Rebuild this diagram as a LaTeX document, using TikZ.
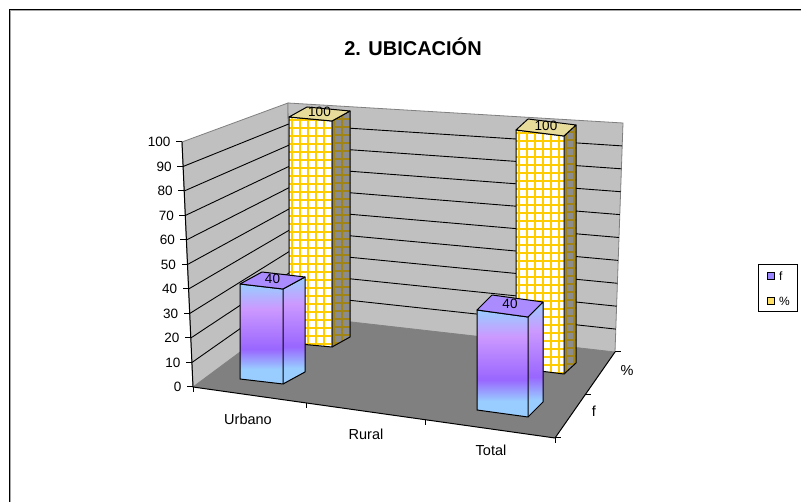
\documentclass[tikz,border=0pt]{standalone}
\usepackage{fontspec}
\setmainfont{Liberation Sans}
\usetikzlibrary{calc}

\definecolor{wallgray}{HTML}{C0C0C0}
\definecolor{floorgray}{HTML}{808080}
\definecolor{edgegray}{HTML}{808080}
\definecolor{fblue}{HTML}{99CCFF}
\definecolor{flav}{HTML}{CC99FF}
\definecolor{fviolet}{HTML}{9966FF}
\definecolor{ftop}{HTML}{AA8CFF}
\definecolor{pyellow}{HTML}{FFCC00}
\definecolor{pdark}{HTML}{A08418}
\definecolor{pside}{HTML}{8C8C8C}
\definecolor{ptop}{HTML}{E8DC9A}

\pgfdeclareverticalshading{fshade}{100bp}{color(0bp)=(fblue); color(25bp)=(fblue);
  color(32.5bp)=(fblue); color(42.5bp)=(fviolet); color(62.5bp)=(flav);
  color(75bp)=(fblue); color(100bp)=(fblue)}

\begin{document}
\begin{tikzpicture}[
      x=1pt, y=-1pt,
      wall/.style={fill=wallgray, draw=edgegray, line width=0.8pt},
      gridline/.style={black, line width=0.9pt},
      axisline/.style={black, line width=1pt},
      barline/.style={draw=black, line width=1pt, line join=round},
      yelgrid/.style={pyellow, line width=2.4pt},
      sidegrid/.style={pdark, line width=2.2pt},
      ticklabel/.style={font=\fontsize{13.5}{16}\selectfont, inner sep=0pt},
      catlabel/.style={font=\fontsize{14.5}{17}\selectfont, inner sep=0pt},
      vallabel/.style={font=\fontsize{13.5}{16}\selectfont, inner sep=0pt},
      keybox/.style={draw=black, line width=0.8pt, minimum size=7pt, inner sep=0pt, anchor=north west}
    ]
    \useasboundingbox (0,0) rectangle (801,502);
    \fill[white] (0,0) rectangle (801,502);

    % chart area frame
    \draw[black, line width=1pt] (9.5,520) -- (9.5,9.5) -- (820,9.5);
    \draw[gray!70, line width=1pt] (10.5,520) -- (10.5,10.5) -- (820,10.5);

    \node[font=\bfseries\fontsize{20}{24}\selectfont, anchor=base] (title) at (413,56) {2. UBICACIÓN};

    % corners of walls and floor
    \coordinate (flt) at (182,142);
    \coordinate (flb) at (193,387);
    \coordinate (blt) at (288,103);
    \coordinate (blb) at (290,315);
    \coordinate (brt) at (623,123);
    \coordinate (brb) at (615,352);
    \coordinate (frb) at (555,438);

    \draw[wall] (flb) -- (flt) -- (blt) -- (blb) -- cycle;
    \draw[wall] (blb) -- (blt) -- (brt) -- (brb) -- cycle;
    \fill[floorgray] (flb) -- (blb) -- (brb) -- (frb) -- cycle;

    \foreach \v in {10,20,...,90}
      \draw[gridline] ($(flb)!\v/100!(flt)$) -- ($(blb)!\v/100!(blt)$) -- ($(brb)!\v/100!(brt)$);

    % value axis
    \draw[axisline] (flb) -- (flt);
    \foreach \v in {0,10,...,100}
      \draw[axisline] ($(flb)!\v/100!(flt)$) -- ++(-6,0)
        node[ticklabel, anchor=east, xshift=-5pt] (ytick\v) {\v};

    % category and series axes
    \draw[axisline] (flb) -- (frb) -- (brb);
    \foreach \f in {0,0.313,0.643,1}
      \draw[axisline] ($(flb)!\f!(frb)$) -- ++(0,5);
    \foreach \f in {0,0.5,1}
      \draw[axisline] ($(frb)!\f!(brb)$) -- ++(6,0);

    \node[catlabel] (urbano) at (248,419) {Urbano};
    \node[catlabel] (rural) at (366,434) {Rural};
    \node[catlabel] (total) at (491,450) {Total};
    \node[catlabel] (ser-f) at (594,411) {f};
    \node[catlabel] (ser-p) at (627,371) {\%};

    % % columns (back row)
    \foreach \x/\y/\w/\s/\h/\dx/\dy/\n in {289/117/43/4/226/18/-10/urb, 516/130/48/6/238/12/-11/tot} {
      \coordinate (tl) at (\x,\y);
      \coordinate (tr) at (\x+\w,\y+\s);
      \coordinate (br) at (\x+\w,\y+\s+\h);
      \coordinate (bl) at (\x,\y+\h);
      \begin{scope}
        \clip (tr) -- ++(\dx,\dy) -- ($(br)+(\dx,\dy)$) -- (br) -- cycle;
        \fill[pside] (\x,\y-20) rectangle (\x+\w+\dx+5,\y+\s+\h+5);
        \foreach \i in {0,...,3}
          \draw[sidegrid] (\x+\w+2+8*\i,\y-20) -- ++(0,\h+40);
        \foreach \j in {0,...,32}
          \draw[sidegrid] (\x,\y-14+8*\j) -- ++(\w+\dx+5,0);
      \end{scope}
      \draw[barline] (tr) -- ++(\dx,\dy) -- ($(br)+(\dx,\dy)$) -- (br);
      \begin{scope}
        \clip (tl) -- (tr) -- (br) -- (bl) -- cycle;
        \fill[white] (\x-2,\y-2) rectangle (\x+\w+2,\y+\s+\h+2);
        \foreach \i in {0,...,6}
          \draw[yelgrid] (\x+3+8*\i,\y-5) -- ++(0,\h+15);
        \foreach \j in {0,...,31}
          \draw[yelgrid] (\x-2,\y+3+8*\j) -- ++(\w+4,0);
      \end{scope}
      \draw[barline] (tl) -- (tr) -- (br) -- (bl) -- cycle;
      \filldraw[fill=ptop, barline] (tl) -- (tr) -- ++(\dx,\dy) -- ($(tl)+(\dx,\dy)$) -- cycle;
      \node[vallabel] (val-p-\n) at ($(tl)!0.5!(tr)+(0.5*\dx,0.5*\dy-2)$) {100};
    }

    % columns (front row)
    \foreach \x/\y/\w/\s/\h/\dx/\dy/\n in {240/284/43/5/95/22/-12/urb, 477/310/51/7/100/15/-15/tot} {
      \coordinate (tl) at (\x,\y);
      \coordinate (tr) at (\x+\w,\y+\s);
      \coordinate (br) at (\x+\w,\y+\s+\h);
      \coordinate (bl) at (\x,\y+\h);
      \shade[shading=fshade] (tr) -- ++(\dx,\dy) -- ($(br)+(\dx,\dy)$) -- (br) -- cycle;
      \draw[barline] (tr) -- ++(\dx,\dy) -- ($(br)+(\dx,\dy)$) -- (br);
      \shade[shading=fshade] (tl) -- (tr) -- (br) -- (bl) -- cycle;
      \draw[barline] (tl) -- (tr) -- (br) -- (bl) -- cycle;
      \filldraw[fill=ftop, barline] (tl) -- (tr) -- ++(\dx,\dy) -- ($(tl)+(\dx,\dy)$) -- cycle;
      \node[vallabel] (val-f-\n) at ($(tl)!0.5!(tr)+(0.5*\dx,0.5*\dy-2)$) {40};
    }

    % legend
    \node[draw=black, line width=0.8pt, minimum width=39pt, minimum height=47pt,
          inner sep=0pt, anchor=north west] (legend) at (758,264) {};
    \node[keybox, fill=fviolet!70!fblue] (key-f) at (767,272) {};
    \node[ticklabel, font=\fontsize{12}{14}\selectfont, anchor=west] (name-f) at (779,276) {f};
    \node[keybox, fill=pyellow!60!white] (key-p) at (767,297) {};
    \node[ticklabel, font=\fontsize{12}{14}\selectfont, anchor=west] (name-p) at (779,301) {\%};
\end{tikzpicture}
\end{document}
